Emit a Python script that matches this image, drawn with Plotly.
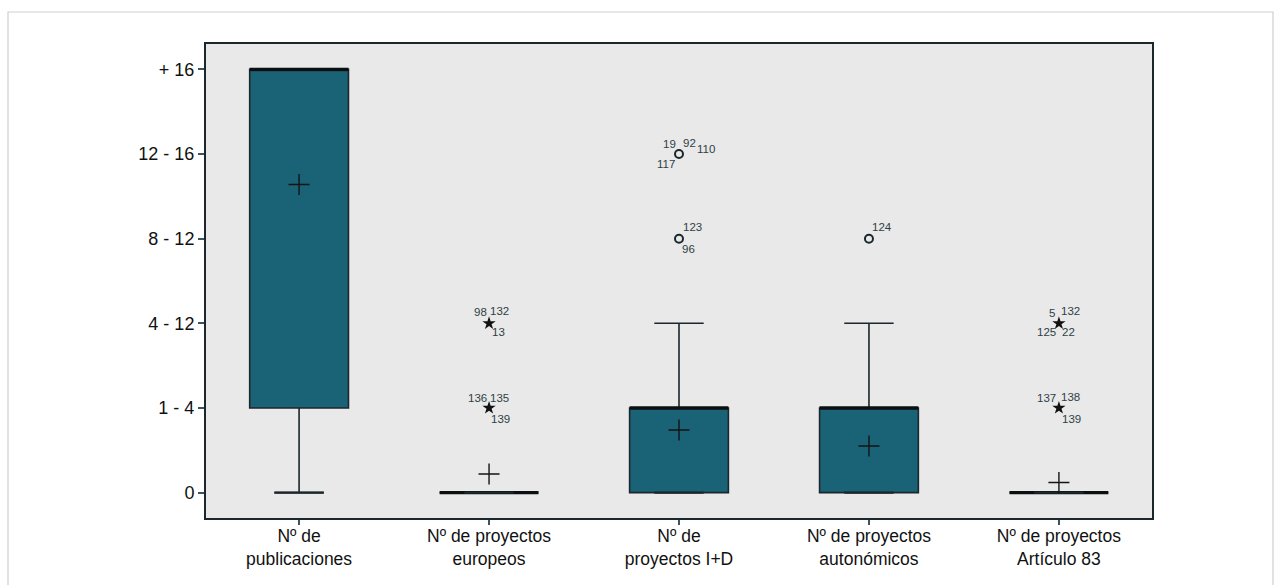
import plotly.graph_objects as go

# Ordinal response scale shown on the y axis (index 0..5)
y_levels = ["0", "1 - 4", "4 - 12", "8 - 12", "12 - 16", "+ 16"]

categories = [
    "Nº de<br>publicaciones",
    "Nº de proyectos<br>europeos",
    "Nº de<br>proyectos I+D",
    "Nº de proyectos<br>autonómicos",
    "Nº de proyectos<br>Artículo 83",
]

# Box statistics per variable (in scale index units)
q1 = [1, 0, 0, 0, 0]
median = [5, 0, 1, 1, 0]
q3 = [5, 0, 1, 1, 0]
lower_whisker = [0, 0, 0, 0, 0]
upper_whisker = [5, 0, 2, 2, 0]
means = [3.64, 0.22, 0.74, 0.55, 0.12]

# Outliers: (variable index, value, kind, case ids)
outliers = [
    (1, 2, "extreme", ["98", "132", "13"]),
    (1, 1, "extreme", ["136", "135", "139"]),
    (2, 4, "outlier", ["19", "92", "110", "117"]),
    (2, 3, "outlier", ["123", "96"]),
    (3, 3, "outlier", ["124"]),
    (4, 2, "extreme", ["5", "132", "125", "22"]),
    (4, 1, "extreme", ["137", "138", "139"]),
]

# Pixel offsets for the case labels around each outlier symbol
label_offsets = {
    (1, 2): [(-9, 11), (10, 12), (9, -9)],
    (1, 1): [(-12, 10), (10, 10), (11, -11)],
    (2, 4): [(-10, 10), (10, 11), (27, 5), (-13, -10)],
    (2, 3): [(13, 12), (9, -10)],
    (3, 3): [(13, 12)],
    (4, 2): [(-7, 10), (12, 12), (-12, -9), (10, -9)],
    (4, 1): [(-12, 10), (12, 11), (13, -11)],
}

BOX_FILL = "#1a6275"
INK = "#1b272c"
BOX_W = 0.52
FONT = "Liberation Sans, Arial, sans-serif"

fig = go.Figure()

for i in range(len(categories)):
    fig.add_trace(go.Box(
        x=[i], q1=[q1[i]], median=[median[i]], q3=[q3[i]],
        lowerfence=[lower_whisker[i]], upperfence=[upper_whisker[i]],
        width=BOX_W, whiskerwidth=0.5, boxpoints=False,
        fillcolor=BOX_FILL, line=dict(color=INK, width=1.6),
        showlegend=False, hoverinfo="skip",
    ))
    # heavy median bar
    fig.add_trace(go.Scatter(
        x=[i - BOX_W / 2, i + BOX_W / 2], y=[median[i], median[i]],
        mode="lines", line=dict(color="#0b0f10", width=3.2),
        showlegend=False, hoverinfo="skip",
    ))
    # lower whisker cap
    fig.add_trace(go.Scatter(
        x=[i - BOX_W / 4, i + BOX_W / 4], y=[lower_whisker[i], lower_whisker[i]],
        mode="lines", line=dict(color=INK, width=2.2),
        showlegend=False, hoverinfo="skip",
    ))

# mean markers
fig.add_trace(go.Scatter(
    x=list(range(len(categories))), y=means, mode="markers",
    marker=dict(symbol="cross-thin", size=15, line=dict(color="#151515", width=1.4)),
    showlegend=False, hoverinfo="skip",
))

# outlier symbols and case labels
annotations = []
for var, val, kind, ids in outliers:
    if kind == "extreme":
        marker = dict(symbol="star", size=10, color="#111111", line=dict(width=0))
    else:
        marker = dict(symbol="circle-open", size=8, color=INK, line=dict(width=2, color=INK))
    fig.add_trace(go.Scatter(x=[var], y=[val], mode="markers", marker=marker,
                             showlegend=False, hoverinfo="skip"))
    for case_id, (dx, dy) in zip(ids, label_offsets[(var, val)]):
        annotations.append(dict(
            x=var, y=val, xref="x", yref="y", text=case_id, showarrow=False,
            xshift=dx, yshift=dy,
            font=dict(family=FONT, size=11.5, color="#2f3f45"),
        ))

fig.update_layout(
    width=1281, height=585,
    margin=dict(l=206, r=129, t=44, b=67),
    paper_bgcolor="white", plot_bgcolor="#e8e9e8",
    font=dict(family=FONT, color="#111111"),
    annotations=annotations,
    shapes=[dict(type="rect", xref="paper", yref="paper",
                 x0=-0.2093, x1=1.1279, y0=-0.16, y1=1.0675,
                 line=dict(color="#cfcfcf", width=1.2), layer="below")],
)
fig.update_xaxes(
    range=[-0.49, 4.49], tickmode="array",
    tickvals=list(range(len(categories))), ticktext=categories,
    showgrid=False, zeroline=False, automargin=False,
    showline=True, mirror=True, linecolor=INK, linewidth=2,
    ticks="outside", ticklen=5, tickcolor="#3b5560", tickwidth=2,
    ticklabelstandoff=-4,
    tickfont=dict(size=17.5, color="#111111"),
)
fig.update_yaxes(
    range=[-0.3, 5.3], tickmode="array",
    tickvals=list(range(len(y_levels))), ticktext=y_levels,
    showgrid=False, zeroline=False, automargin=False,
    showline=True, mirror=True, linecolor=INK, linewidth=2,
    ticks="outside", ticklen=6, tickcolor="#3b5560", tickwidth=2,
    tickfont=dict(size=18, color="#111111"),
)

fig.write_html("out.html")
